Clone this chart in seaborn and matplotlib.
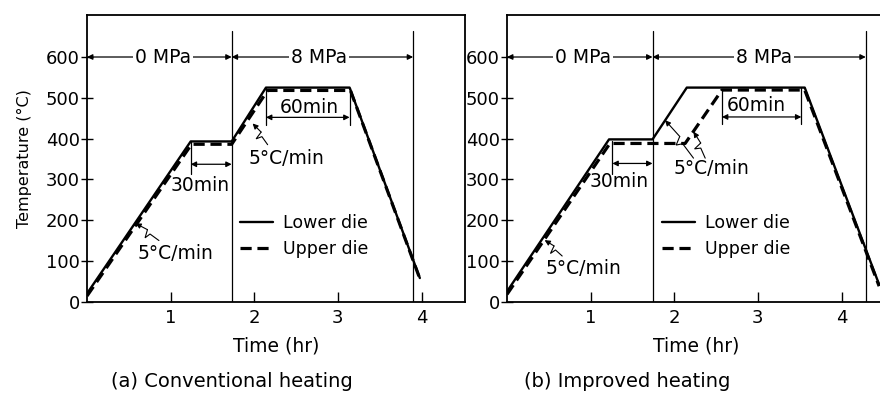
import numpy as np
import pandas as pd
import matplotlib
matplotlib.use("Agg")
import matplotlib.pyplot as plt
import seaborn as sns

# ---------------- data ----------------
a_lower_time = [0.0, 1.24, 1.73, 2.14, 3.14, 3.98]
a_lower_temp = [20, 393, 393, 525, 525, 58]
a_upper_time = [0.0, 1.25, 1.73, 2.16, 3.15, 3.97]
a_upper_temp = [14, 386, 386, 518, 518, 62]

b_lower_time = [0.0, 1.22, 1.74, 2.15, 3.56, 4.45]
b_lower_temp = [25, 398, 398, 525, 525, 42]
b_upper_time = [0.0, 1.23, 2.13, 2.57, 3.56, 4.45]
b_upper_temp = [18, 388, 388, 519, 519, 38]

a_separators = [1.73, 3.90]
b_separators = [1.74, 4.29]
stage_labels = ["0 MPa", "8 MPa"]
series_labels = ["Lower die", "Upper die"]
x_ticks = [1, 2, 3, 4]
y_ticks = [0, 100, 200, 300, 400, 500, 600]
captions = ["(a) Conventional heating", "(b) Improved heating"]

# ---------------- style ----------------
sns.set_style("ticks")
plt.rcParams["font.family"] = ["DejaVu Sans"]
for k in ["text.color", "axes.labelcolor", "xtick.color", "ytick.color"]:
    plt.rcParams[k] = "black"
FS = 12.5      # legend
FT = 13.5      # annotations
FK = 13        # tick labels

fig = plt.figure(figsize=(8.8, 3.94), dpi=100)
W, H = 880.0, 394.0


def make_axes(left_px):
    return fig.add_axes([left_px / W, (H - 301.7) / H, 378 / W, 286.7 / H])


def zigzag(ax, tip, tail):
    T = ax.transData
    p_tip = T.transform(tip)
    p_tail = T.transform(tail)
    d = p_tip - p_tail
    L = np.hypot(*d)
    u = d / L
    n = np.array([-u[1], u[0]])
    p1 = p_tail + 0.38 * d
    p2 = p_tail + 0.44 * d + 6.0 * n
    p3 = p_tail + 0.54 * d - 2.0 * n
    inv = T.inverted()
    pts = inv.transform(np.vstack([p_tail, p1, p2, p3]))
    ax.plot(pts[:, 0], pts[:, 1], color="black", lw=0.8, solid_joinstyle="miter")
    ax.annotate("", xy=tip, xytext=tuple(pts[-1]),
                arrowprops=dict(arrowstyle="-|>", color="black", lw=0.8,
                                mutation_scale=8, shrinkA=0, shrinkB=0))


def dim_arrow(ax, x0, x1, y):
    ax.annotate("", xy=(x0, y), xytext=(x1, y),
                arrowprops=dict(arrowstyle="<|-|>", color="black", lw=0.9,
                                mutation_scale=8, shrinkA=0, shrinkB=0))


def draw_panel(ax, lt, ly, ut, uy, seps, stage_x, show_ylabel):
    df = pd.concat([
        pd.DataFrame({"time": lt, "temp": ly, "die": series_labels[0]}),
        pd.DataFrame({"time": ut, "temp": uy, "die": series_labels[1]}),
    ])
    sns.lineplot(data=df[df.die == series_labels[0]], x="time", y="temp", ax=ax,
                 color="black", lw=1.7, estimator=None, sort=False,
                 label=series_labels[0])
    sns.lineplot(data=df[df.die == series_labels[1]], x="time", y="temp", ax=ax,
                 color="black", lw=2.3, estimator=None, sort=False,
                 dashes=False, label=series_labels[1])
    ax.lines[-1].set_dashes((3.5, 1.8))

    ax.set_xlim(0, 4.52)
    ax.set_ylim(0, 703)
    for s in seps:
        ax.plot([s, s], [0, 663], color="black", lw=0.9)

    bounds = [0, seps[0], seps[1]]
    for i in range(2):
        dim_arrow(ax, bounds[i], bounds[i + 1], 600)
        ax.text(stage_x[i], 600, stage_labels[i], ha="center", va="center",
                fontsize=FT, bbox=dict(facecolor="white", edgecolor="none", pad=1.5))

    ax.set_xticks(x_ticks)
    ax.set_xticklabels([str(v) for v in x_ticks])
    ax.set_yticks(y_ticks)
    ax.set_yticklabels([str(v) for v in y_ticks])
    ax.tick_params(axis="x", direction="in", length=7, width=1, labelsize=FK, pad=5)
    ax.tick_params(axis="y", direction="inout", length=8, width=1, labelsize=FK, pad=1)
    for sp in ax.spines.values():
        sp.set_visible(True)
        sp.set_linewidth(1.3)
        sp.set_color("black")
    ax.set_xlabel("Time (hr)", fontsize=FT, labelpad=7)
    if show_ylabel:
        ax.set_ylabel("Temperature (°C)", fontsize=11.5, labelpad=10)
    else:
        ax.set_ylabel("")
    ax.grid(False)
    ax.set_facecolor("white")


# ---------------- panel (a) ----------------
axa = make_axes(87)
draw_panel(axa, a_lower_time, a_lower_temp, a_upper_time, a_upper_temp,
           a_separators, [0.91, 2.77], True)
axa.plot([1.24, 1.24], [393, 312], color="black", lw=0.9)
dim_arrow(axa, 1.24, 1.73, 337)
axa.text(1.35, 286, "30min", ha="center", va="center", fontsize=FT)
axa.plot([2.14, 2.14], [525, 433], color="black", lw=0.9)
axa.plot([3.14, 3.14], [525, 433], color="black", lw=0.9)
dim_arrow(axa, 2.14, 3.14, 452)
axa.text(2.66, 476, "60min", ha="center", va="center", fontsize=FT)
zigzag(axa, (0.58, 192), (0.86, 150))
axa.text(1.06, 119, "5°C/min", ha="center", va="center", fontsize=FT)
zigzag(axa, (1.98, 437), (2.16, 385))
axa.text(2.38, 351, "5°C/min", ha="center", va="center", fontsize=FT)
axa.legend(loc="upper left", bbox_to_anchor=(0.405, 0.305), frameon=False,
           fontsize=FS, handlelength=1.9, handletextpad=0.6, borderaxespad=0,
           borderpad=0, labelspacing=0.45)

# ---------------- panel (b) ----------------
axb = make_axes(507)
draw_panel(axb, b_lower_time, b_lower_temp, b_upper_time, b_upper_temp,
           b_separators, [0.91, 3.07], False)
axb.plot([1.26, 1.26], [395, 312], color="black", lw=0.9)
dim_arrow(axb, 1.26, 1.74, 339)
axb.text(1.34, 294, "30min", ha="center", va="center", fontsize=FT)
axb.plot([2.57, 2.57], [519, 436], color="black", lw=0.9)
axb.plot([3.52, 3.52], [525, 436], color="black", lw=0.9)
dim_arrow(axb, 2.57, 3.52, 453)
axb.text(2.98, 480, "60min", ha="center", va="center", fontsize=FT)
zigzag(axb, (0.45, 151), (0.66, 112))
axb.text(0.92, 82, "5°C/min", ha="center", va="center", fontsize=FT)
zigzag(axb, (1.89, 445), (2.23, 352))
zigzag(axb, (2.23, 417), (2.37, 352))
axb.text(2.45, 327, "5°C/min", ha="center", va="center", fontsize=FT)
axb.legend(loc="upper left", bbox_to_anchor=(0.41, 0.305), frameon=False,
           fontsize=FS, handlelength=1.9, handletextpad=0.6, borderaxespad=0,
           borderpad=0, labelspacing=0.45)

fig.text(231.7 / W, 3 / H, captions[0], ha="center", va="bottom", fontsize=14)
fig.text(626.7 / W, 3 / H, captions[1], ha="center", va="bottom", fontsize=14)

fig.savefig("out.png", dpi=100, facecolor="white")
